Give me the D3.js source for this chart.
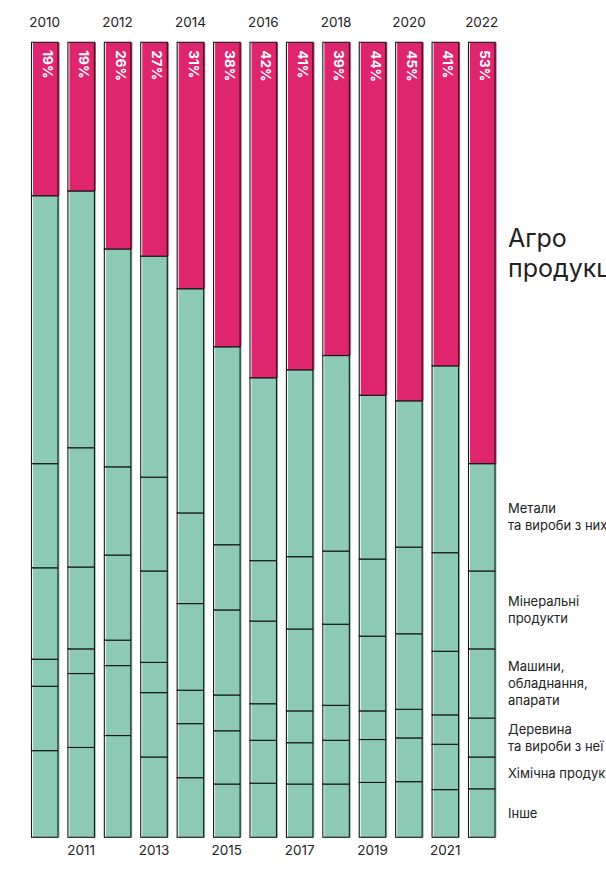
<!DOCTYPE html>
<html>
<head>
<meta charset="utf-8">
<script src="https://cdn.jsdelivr.net/npm/d3@7"></script>
<style>
  body { margin: 0; background: #fff; }
  svg { display: block; font-family: Inter, "Noto Sans", sans-serif; }
</style>
</head>
<body>
<div id="chart"></div>
<script>
/* ── Data (shares of exports, %) ───────────────────────────────────── */

const years = [2010, 2011, 2012, 2013, 2014, 2015, 2016, 2017, 2018, 2019, 2020, 2021, 2022];

const agro      = [19.3, 18.7, 26.0, 26.9, 31.0, 38.3, 42.2, 41.2, 39.4, 44.4, 45.1, 40.7, 53.0];
const metals    = [33.7, 32.3, 27.4, 27.8, 28.2, 24.9, 23.0, 23.5, 24.6, 20.6, 18.4, 23.5, 13.5];
const minerals  = [13.1, 15.0, 11.1, 11.8, 11.4, 8.2, 7.6, 9.1, 9.2, 9.7, 10.9, 12.4, 9.8];
const machinery = [11.5, 10.3, 10.7, 11.5, 10.9, 10.7, 10.4, 10.3, 10.2, 9.4, 9.5, 8.0, 8.7];
const wood      = [3.4, 3.1, 3.2, 3.8, 4.2, 4.5, 4.6, 4.0, 4.4, 3.6, 3.6, 3.7, 4.9];
const chemicals = [8.1, 9.3, 8.8, 8.1, 6.8, 6.7, 5.4, 5.2, 5.5, 5.4, 5.5, 5.7, 4.0];
const other     = [10.9, 11.3, 12.8, 10.1, 7.5, 6.7, 6.8, 6.7, 6.7, 6.9, 7.0, 6.0, 6.1];

// stack order, bottom to top
const keys = ['other', 'chemicals', 'wood', 'machinery', 'minerals', 'metals', 'agro'];

const labelLines = {
  agro: ['Агро', 'продукція'],
  metals: ['Метали', 'та вироби з них'],
  minerals: ['Мінеральні', 'продукти'],
  machinery: ['Машини,', 'обладнання,', 'апарати'],
  wood: ['Деревина', 'та вироби з неї'],
  chemicals: ['Хімічна продукція'],
  other: ['Інше'],
};

/* ── Setup ─────────────────────────────────────────────────────────── */

const W = 606, H = 870;
const COLORS = { agro: '#E0256F', rest: '#8DCAB5', stroke: '#161616', text: '#222222' };

const rows = years.map((year, i) => ({
  year: year,
  agro: agro[i], metals: metals[i], minerals: minerals[i], machinery: machinery[i],
  wood: wood[i], chemicals: chemicals[i], other: other[i],
}));

const series = d3.stack().keys(keys)(rows);

const x = d3.scaleBand()
  .domain(years)
  .range([31.5, 495])
  .paddingInner(0.272)
  .paddingOuter(0);

const y = d3.scaleLinear().domain([0, 100]).range([837.3, 42.3]);

const svg = d3.select('#chart').append('svg')
  .attr('width', W)
  .attr('height', H);

/* ── Bars ──────────────────────────────────────────────────────────── */

const layer = svg.append('g').selectAll('g')
  .data(series)
  .join('g');

// fill, shifted slightly right like the original print-style offset
layer.selectAll('rect.fill')
  .data(s => s.map(d => Object.assign({ key: s.key }, d)))
  .join('rect')
  .attr('class', 'fill')
  .attr('x', d => x(d.data.year) + 1.5)
  .attr('y', d => y(d[1]))
  .attr('width', x.bandwidth())
  .attr('height', d => y(d[0]) - y(d[1]))
  .attr('fill', d => d.key === 'agro' ? COLORS.agro : COLORS.rest);

layer.selectAll('rect.edge')
  .data(s => s)
  .join('rect')
  .attr('class', 'edge')
  .attr('x', d => x(d.data.year))
  .attr('y', d => y(d[1]))
  .attr('width', x.bandwidth())
  .attr('height', d => y(d[0]) - y(d[1]))
  .attr('fill', 'none')
  .attr('stroke', COLORS.stroke)
  .attr('stroke-width', 1.1);

/* ── Percentage labels (agro share) ────────────────────────────────── */

svg.append('g').selectAll('text')
  .data(rows)
  .join('text')
  .attr('transform', d => 'translate(' + (x(d.year) + x.bandwidth() / 2 + 3) + ',' + (y(100) + 8) + ') rotate(90)')
  .attr('dy', '0.36em')
  .attr('fill', '#fff')
  .attr('font-size', 13.5)
  .attr('font-weight', 700)
  .text(d => Math.round(d.agro) + '%');

/* ── Year labels: even on top, odd below ───────────────────────────── */

svg.append('g').selectAll('text')
  .data(years)
  .join('text')
  .attr('x', d => x(d) + x.bandwidth() / 2)
  .attr('y', d => d % 2 === 0 ? 27 : 855)
  .attr('text-anchor', 'middle')
  .attr('font-size', 13.5)
  .attr('fill', COLORS.text)
  .text(d => d);

/* ── Category labels, centred on the 2022 bar segments ─────────────── */

const last = years.length - 1;
const labelX = 508;

series.forEach(s => {
  const seg = s[last];
  const mid = (y(seg[0]) + y(seg[1])) / 2;
  const big = s.key === 'agro';
  const lh = big ? 29.5 : 17;
  const lines = labelLines[s.key];
  const t = svg.append('text')
    .attr('x', labelX)
    .attr('font-size', big ? 25 : 13)
    .attr('fill', COLORS.text);
  lines.forEach((line, i) => {
    t.append('tspan')
      .attr('x', labelX)
      .attr('y', mid - (lines.length - 1) * lh / 2 + i * lh)
      .attr('dy', '0.36em')
      .text(line);
  });
});
</script>
</body>
</html>
